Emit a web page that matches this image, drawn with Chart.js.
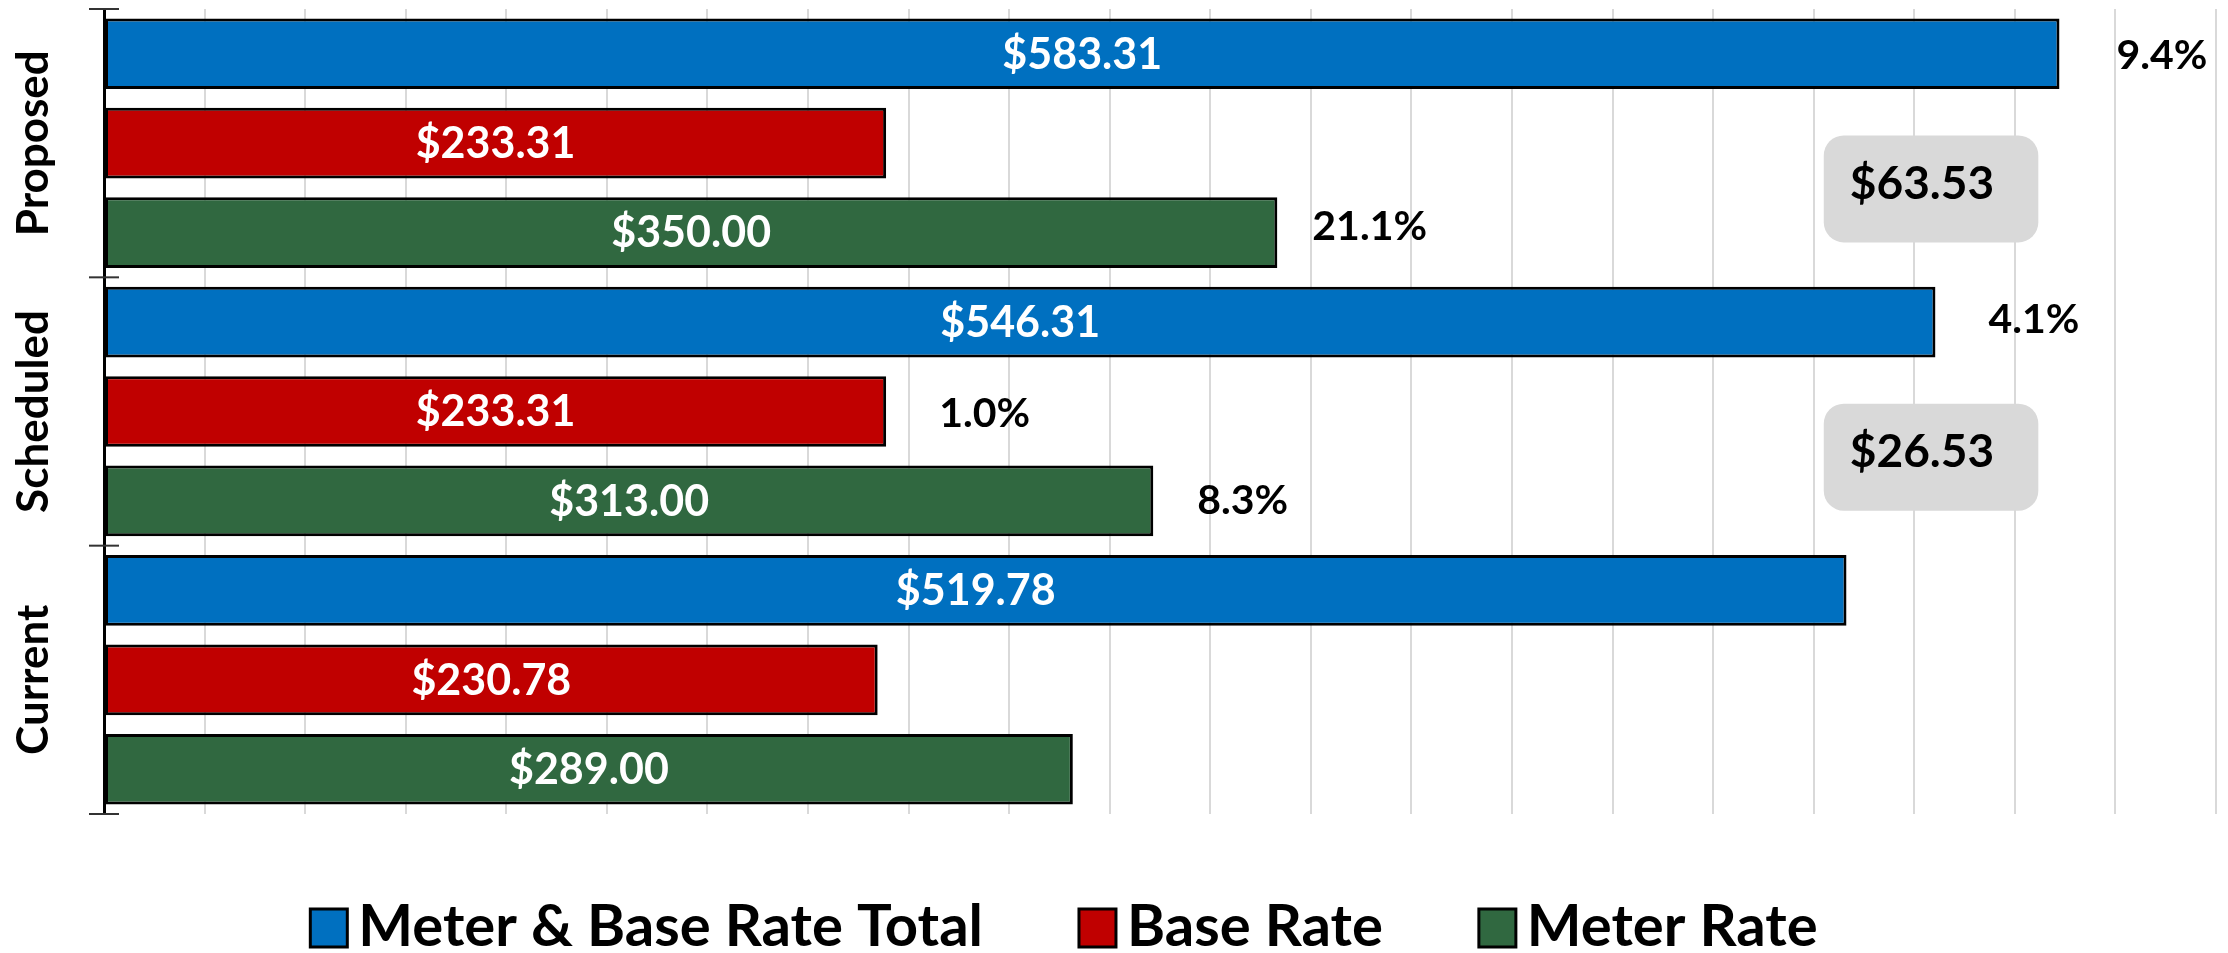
<!DOCTYPE html>
<html><head><meta charset="utf-8">
<script src="https://cdn.jsdelivr.net/npm/chart.js@4/dist/chart.umd.min.js"></script>
<style>html,body{margin:0;padding:0;background:#fff;overflow:hidden}canvas{display:block}</style>
</head><body>
<canvas id="c" width="2228" height="953"></canvas>
<script>
// ---- data ----
const categories = ['Proposed', 'Scheduled', 'Current'];
const seriesNames = ['Meter & Base Rate Total', 'Base Rate', 'Meter Rate'];
const totalRate = [583.31, 546.31, 519.78];
const baseRate = [233.31, 233.31, 230.78];
const meterRate = [350.00, 313.00, 289.00];
const totalPct = ['9.4%', '4.1%', ''];
const basePct = ['', '1.0%', ''];
const meterPct = ['21.1%', '8.3%', ''];
const increaseLabels = ['$63.53', '$26.53', ''];
const xMin = 0, xMax = 630, xStep = 30;

// ---- style / layout (not data) ----
const FONT = 'Lato, "Open Sans", sans-serif';
const colors = ['#0070C0', '#C00000', '#306840'];
const pctLabels = [totalPct, basePct, meterPct];
const pctGap = [[57, 53, 0], [0, 53, 0], [35, 44, 0]];
const pctDy = [[2, -2, 0], [0, 2, 0], [-6, 0, 0]];
const boxRange = [513, 577];

const annotPlugin = {
  id: 'annot',
  afterDatasetsDraw(chart) {
    const ctx = chart.ctx, xs = chart.scales.x, ys = chart.scales.y, ca = chart.chartArea;
    ctx.save();
    // category tick marks crossing the axis
    const bounds = [ca.top];
    for (let i = 0; i < categories.length - 1; i++) bounds.push((ys.getPixelForValue(i) + ys.getPixelForValue(i + 1)) / 2);
    bounds.push(ca.bottom);
    ctx.strokeStyle = '#333'; ctx.lineWidth = 2;
    bounds.forEach(b => { ctx.beginPath(); ctx.moveTo(ca.left - 15, b); ctx.lineTo(ca.left + 15, b); ctx.stroke(); });
    // category labels (rotated)
    ctx.fillStyle = '#000';
    ctx.font = 'bold 44px ' + FONT;
    categories.forEach((c, i) => {
      ctx.save();
      ctx.translate(48, ys.getPixelForValue(i));
      ctx.rotate(-Math.PI / 2);
      ctx.textAlign = 'center'; ctx.textBaseline = 'alphabetic';
      ctx.fillText(c, 0, 0);
      ctx.restore();
    });
    // bar value labels + percent labels
    chart.data.datasets.forEach((ds, di) => {
      const meta = chart.getDatasetMeta(di);
      meta.data.forEach((bar, j) => {
        const v = ds.data[j];
        ctx.font = 'bold 43px ' + FONT;
        ctx.fillStyle = '#fff'; ctx.textAlign = 'center'; ctx.textBaseline = 'middle';
        ctx.fillText('$' + v.toFixed(2), (bar.x + bar.base) / 2, bar.y + 1);
        const p = pctLabels[di][j];
        if (p) {
          ctx.font = 'bold 41px ' + FONT;
          ctx.fillStyle = '#000'; ctx.textAlign = 'left';
          ctx.fillText(p, bar.x + pctGap[di][j], bar.y + pctDy[di][j]);
        }
      });
    });
    // increase boxes between Base and Meter bars
    const mBase = chart.getDatasetMeta(1), mMeter = chart.getDatasetMeta(2);
    increaseLabels.forEach((t, j) => {
      if (!t) return;
      const cy = (mBase.data[j].y + mMeter.data[j].y) / 2 + 1;
      const x0 = xs.getPixelForValue(boxRange[0]), x1 = xs.getPixelForValue(boxRange[1]);
      const h = 107;
      ctx.fillStyle = '#D9D9D9';
      ctx.beginPath();
      ctx.roundRect(x0, cy - h / 2, x1 - x0, h, 20);
      ctx.fill();
      ctx.fillStyle = '#000';
      ctx.font = 'bold 46px ' + FONT;
      ctx.textAlign = 'left'; ctx.textBaseline = 'middle';
      ctx.fillText(t, x0 + 26, cy - 5);
    });
    ctx.restore();
  },
  afterDraw(chart) {
    // legend built from datasets
    const ctx = chart.ctx;
    ctx.save();
    ctx.font = 'bold 58px ' + FONT;
    const bw = 37, bh = 38, gapText = 11, gapItem = 96, boxTop = 909, baseline = 946, centerX = 1064;
    const items = chart.data.datasets.map(ds => ({ text: ds.label, color: ds.backgroundColor, w: ctx.measureText(ds.label).width }));
    let total = 0;
    items.forEach((it, i) => { total += bw + gapText + it.w + (i < items.length - 1 ? gapItem : 0); });
    let x = centerX - total / 2;
    items.forEach(it => {
      ctx.fillStyle = it.color;
      ctx.fillRect(x, boxTop, bw, bh);
      ctx.strokeStyle = '#000'; ctx.lineWidth = 3;
      ctx.strokeRect(x, boxTop, bw, bh);
      ctx.fillStyle = '#000'; ctx.textAlign = 'left'; ctx.textBaseline = 'alphabetic';
      ctx.fillText(it.text, x + bw + gapText, baseline);
      x += bw + gapText + it.w + gapItem;
    });
    ctx.restore();
  }
};

const datasets = [totalRate, baseRate, meterRate].map((d, i) => ({
  label: seriesNames[i],
  data: d,
  backgroundColor: colors[i],
  borderColor: '#000',
  borderWidth: 3,
  borderSkipped: false,
  categoryPercentage: 1.0,
  barPercentage: 0.79
}));

new Chart(document.getElementById('c'), {
  type: 'bar',
  data: { labels: categories, datasets },
  options: {
    indexAxis: 'y',
    responsive: false,
    devicePixelRatio: 1,
    animation: false,
    layout: { padding: { top: 9, right: 12, bottom: 139, left: 0 } },
    plugins: { legend: { display: false }, tooltip: { enabled: false } },
    scales: {
      x: {
        min: xMin, max: xMax,
        ticks: { display: false, stepSize: xStep },
        grid: { color: '#D9D9D9', lineWidth: 2, drawTicks: false },
        border: { display: false },
        afterFit(s) { s.height = 0; }
      },
      y: {
        ticks: { display: false },
        grid: { display: false, drawTicks: false },
        border: { display: true, color: '#000', width: 3 },
        afterFit(s) { s.width = 104; }
      }
    }
  },
  plugins: [annotPlugin]
});
</script>
</body></html>
